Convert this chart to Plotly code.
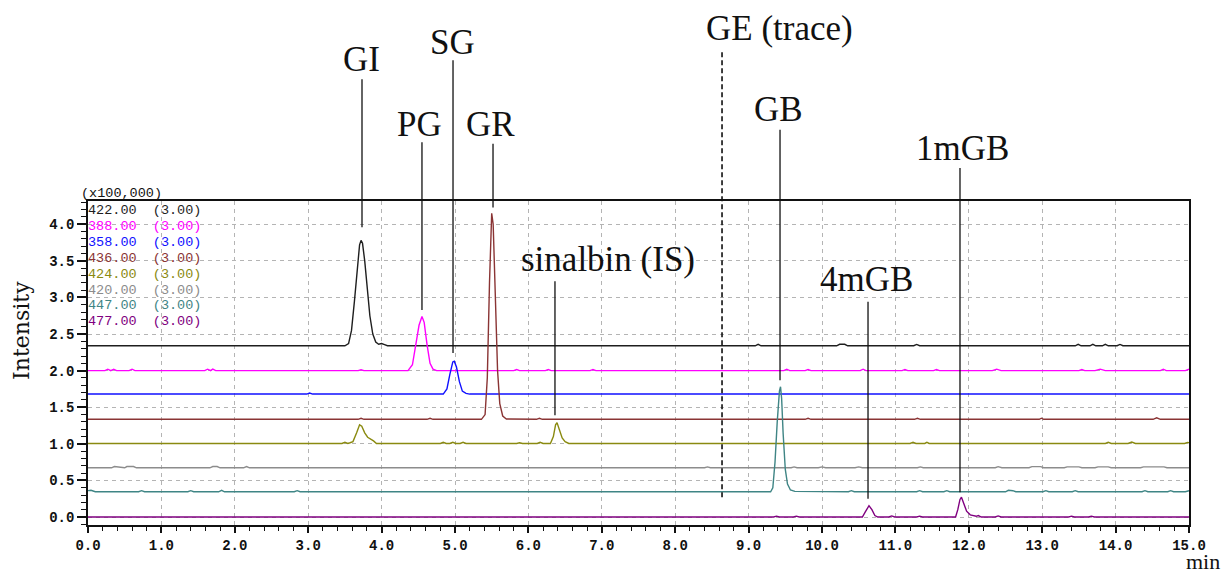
import plotly.graph_objects as go

# ---------------- data (time in min, intensity in x100,000) ----------------
channels = ["422.00", "388.00", "358.00", "436.00", "424.00", "420.00", "447.00", "477.00"]
windows = ["3.00", "3.00", "3.00", "3.00", "3.00", "3.00", "3.00", "3.00"]
colors = ["#1e1e1e", "#ff00ff", "#1010ff", "#8a3434", "#8a8a10", "#8c8c8c", "#3f8585", "#800080"]

pts_422 = [(0.0, 2.34), (3.50, 2.34), (3.55, 2.37), (3.59, 2.55), (3.63, 2.95), (3.67, 3.45),
           (3.70, 3.72), (3.72, 3.78), (3.74, 3.74), (3.77, 3.50), (3.80, 3.15), (3.84, 2.75),
           (3.88, 2.50), (3.92, 2.39), (3.96, 2.36), (4.00, 2.37), (4.04, 2.355), (4.08, 2.34),
           (9.09, 2.34), (9.13, 2.36), (9.17, 2.34), (10.20, 2.34), (10.24, 2.36), (10.31, 2.36),
           (10.35, 2.34), (11.25, 2.34), (11.29, 2.358), (11.33, 2.34), (13.45, 2.34), (13.49, 2.36),
           (13.53, 2.34), (13.65, 2.34), (13.69, 2.36), (13.73, 2.34), (13.82, 2.34), (13.86, 2.36),
           (13.90, 2.34), (14.02, 2.34), (14.06, 2.358), (14.10, 2.34), (15.0, 2.34)]

pts_388 = [(0.0, 2.0), (0.23, 2.0), (0.27, 2.02), (0.31, 2.0), (0.35, 2.02), (0.39, 2.0),
           (0.56, 2.0), (0.60, 2.02), (0.64, 2.0), (1.59, 2.0), (1.63, 2.02), (1.67, 2.0),
           (1.70, 2.02), (1.74, 2.0), (3.68, 2.0), (3.72, 2.012), (3.76, 2.0), (4.36, 2.0),
           (4.42, 2.08), (4.47, 2.35), (4.51, 2.62), (4.55, 2.74), (4.58, 2.66), (4.62, 2.35),
           (4.66, 2.10), (4.70, 2.02), (4.75, 2.0), (5.80, 2.0), (5.84, 2.015), (5.88, 2.0),
           (6.23, 2.0), (6.27, 2.015), (6.31, 2.0), (6.84, 2.0), (6.88, 2.015), (6.92, 2.0),
           (9.48, 2.0), (9.52, 2.02), (9.56, 2.0), (9.77, 2.0), (9.81, 2.015), (9.85, 2.0),
           (10.52, 2.0), (10.56, 2.02), (10.60, 2.0), (11.09, 2.0), (11.13, 2.015), (11.17, 2.0),
           (11.52, 2.0), (11.56, 2.015), (11.60, 2.0), (12.32, 2.0), (12.38, 2.02), (12.44, 2.0),
           (13.50, 2.0), (13.54, 2.015), (13.58, 2.0), (13.72, 2.0), (13.79, 2.02), (13.86, 2.0),
           (14.61, 2.0), (14.65, 2.02), (14.69, 2.0), (14.95, 2.0), (15.0, 2.02)]

pts_358 = [(0.0, 1.68), (2.98, 1.68), (3.02, 1.695), (3.06, 1.68), (4.84, 1.68), (4.89, 1.75),
           (4.93, 1.95), (4.97, 2.12), (4.99, 2.13), (5.02, 2.05), (5.06, 1.85), (5.10, 1.72),
           (5.15, 1.69), (5.20, 1.68), (15.0, 1.68)]

pts_436 = [(0.0, 1.335), (3.68, 1.335), (3.72, 1.35), (3.76, 1.335), (4.62, 1.335), (4.66, 1.35),
           (4.70, 1.335), (5.36, 1.335), (5.41, 1.40), (5.44, 1.90), (5.47, 3.20), (5.50, 4.15),
           (5.52, 4.00), (5.55, 3.00), (5.58, 2.00), (5.61, 1.55), (5.65, 1.38), (5.70, 1.34),
           (6.11, 1.335), (6.15, 1.35), (6.19, 1.335), (9.77, 1.335), (9.81, 1.35), (9.85, 1.335),
           (11.26, 1.335), (11.30, 1.35), (11.34, 1.335), (12.96, 1.335), (12.99, 1.35), (13.02, 1.335),
           (14.51, 1.335), (14.56, 1.355), (14.61, 1.335), (15.0, 1.335)]

pts_424 = [(0.0, 1.005), (3.46, 1.005), (3.50, 1.02), (3.54, 1.005), (3.57, 1.015), (3.61, 1.03),
           (3.66, 1.15), (3.70, 1.26), (3.73, 1.24), (3.77, 1.15), (3.81, 1.09), (3.85, 1.07),
           (3.89, 1.04), (3.93, 1.005), (4.80, 1.005), (4.84, 1.02), (4.88, 1.005), (4.93, 1.005),
           (4.97, 1.02), (5.01, 1.005), (5.07, 1.005), (5.11, 1.02), (5.15, 1.005), (5.84, 1.005),
           (5.88, 1.015), (5.92, 1.005), (6.12, 1.005), (6.16, 1.02), (6.20, 1.005), (6.30, 1.005),
           (6.34, 1.10), (6.37, 1.26), (6.39, 1.29), (6.42, 1.20), (6.46, 1.08), (6.50, 1.03),
           (6.55, 1.005), (11.20, 1.005), (11.24, 1.02), (11.28, 1.005), (11.40, 1.005), (11.43, 1.02),
           (11.46, 1.005), (13.86, 1.005), (13.90, 1.02), (13.94, 1.005), (14.17, 1.005), (14.22, 1.025),
           (14.27, 1.005), (14.94, 1.005), (14.98, 1.02), (15.0, 1.015)]

pts_420 = [(0.0, 0.673), (0.32, 0.673), (0.36, 0.69), (0.44, 0.685), (0.50, 0.673), (0.53, 0.69),
           (0.58, 0.685), (0.62, 0.69), (0.66, 0.673), (1.66, 0.673), (1.70, 0.69), (1.76, 0.69),
           (1.80, 0.673), (2.12, 0.673), (2.16, 0.69), (2.20, 0.673), (8.40, 0.673), (8.44, 0.685),
           (8.48, 0.673), (9.58, 0.673), (9.62, 0.685), (9.66, 0.673), (9.95, 0.673), (10.00, 0.685),
           (10.05, 0.673), (10.45, 0.673), (10.50, 0.685), (10.55, 0.673), (11.30, 0.673), (11.34, 0.685),
           (11.38, 0.673), (12.36, 0.673), (12.40, 0.688), (12.45, 0.673), (12.82, 0.673), (12.86, 0.688),
           (12.98, 0.688), (13.02, 0.673), (13.30, 0.673), (13.34, 0.685), (13.50, 0.685), (13.54, 0.673),
           (13.72, 0.673), (13.76, 0.685), (13.90, 0.685), (13.94, 0.673), (14.34, 0.673), (14.38, 0.685),
           (14.66, 0.685), (14.70, 0.673), (15.0, 0.673)]

pts_447 = [(0.0, 0.36), (0.04, 0.365), (0.10, 0.345), (0.69, 0.345), (0.73, 0.36), (0.77, 0.345),
           (1.36, 0.345), (1.40, 0.36), (1.44, 0.345), (1.78, 0.345), (1.82, 0.365), (1.86, 0.345),
           (2.81, 0.345), (2.85, 0.36), (2.89, 0.345), (9.30, 0.345), (9.33, 0.40), (9.36, 0.75),
           (9.39, 1.30), (9.42, 1.72), (9.435, 1.78), (9.45, 1.62), (9.47, 1.15), (9.50, 0.65),
           (9.53, 0.45), (9.57, 0.37), (9.63, 0.35), (10.36, 0.345), (10.40, 0.36), (10.44, 0.345),
           (11.29, 0.345), (11.33, 0.36), (11.37, 0.345), (11.66, 0.345), (11.70, 0.36), (11.74, 0.345),
           (12.50, 0.345), (12.54, 0.365), (12.60, 0.36), (12.64, 0.345), (13.01, 0.345), (13.05, 0.36),
           (13.09, 0.345), (13.41, 0.345), (13.45, 0.36), (13.49, 0.345), (14.36, 0.345), (14.40, 0.36),
           (14.44, 0.345), (14.71, 0.345), (14.75, 0.36), (14.79, 0.345), (14.95, 0.345), (15.0, 0.36)]

pts_477 = [(0.0, 0.0), (9.34, 0.0), (9.38, 0.012), (9.42, 0.0), (9.61, 0.0), (9.65, 0.012),
           (9.69, 0.0), (10.55, 0.0), (10.59, 0.07), (10.64, 0.155), (10.68, 0.10), (10.72, 0.02),
           (10.76, 0.0), (10.91, 0.0), (10.95, 0.015), (10.99, 0.0), (11.29, 0.0), (11.33, 0.012),
           (11.37, 0.0), (11.82, 0.0), (11.85, 0.10), (11.88, 0.24), (11.90, 0.27), (11.93, 0.18),
           (11.97, 0.08), (12.02, 0.03), (12.06, 0.015), (12.10, 0.01), (12.13, 0.02), (12.17, 0.0),
           (12.36, 0.0), (12.40, 0.015), (12.44, 0.0), (13.36, 0.0), (13.40, 0.012), (13.44, 0.0),
           (13.63, 0.0), (13.67, 0.012), (13.71, 0.0), (15.0, 0.0)]

series = [pts_422, pts_388, pts_358, pts_436, pts_424, pts_420, pts_447, pts_477]

# peak labels
label_text = ["GI", "PG", "SG", "GR", "sinalbin (IS)", "GE (trace)", "GB", "4mGB", "1mGB"]
label_line_t = [3.733, 4.55, 4.973, 5.518, 6.362, 8.638, 9.428, 10.627, 11.88]
label_text_t = [3.72, 4.52, 4.966, 5.49, 7.08, 9.42, 9.414, 10.60, 11.92]
label_text_v = [6.257, 5.369, 6.489, 5.369, 3.525, 6.680, 5.574, 3.251, 5.041]
label_line_top = [5.98, 5.12, 6.24, 5.10, 3.22, 6.38, 5.29, 2.94, 4.77]
label_line_bottom = [3.96, 2.83, 2.24, 4.23, 1.39, 0.27, 1.87, 0.25, 0.34]
label_dashed = [False, False, False, False, False, True, False, False, False]

x_range = [0.0, 15.0]
y_range = [-0.109, 4.318]

# ---------------- figure ----------------
fig = go.Figure()
for pts, col, ch in zip(series, colors, channels):
    fig.add_trace(go.Scatter(
        x=[p[0] for p in pts], y=[p[1] for p in pts], mode="lines",
        line=dict(color=col, width=1.4), name=ch, showlegend=False, hoverinfo="skip"))


def to_paper(v):
    return (v - y_range[0]) / (y_range[1] - y_range[0])


shapes = []
annotations = []
serif = "Liberation Serif"
for txt, lt, tt, tv, top, bot, dsh in zip(label_text, label_line_t, label_text_t, label_text_v,
                                         label_line_top, label_line_bottom, label_dashed):
    shapes.append(dict(type="line", xref="x", yref="paper", x0=lt, x1=lt,
                       y0=to_paper(bot), y1=to_paper(top),
                       line=dict(color="#111111", width=1.6 if dsh else 1.3,
                                 dash="5px,3px" if dsh else "solid")))
    annotations.append(dict(text=txt, x=tt, y=to_paper(tv), xref="x", yref="paper",
                            xanchor="center", yanchor="middle", showarrow=False,
                            font=dict(family=serif, size=35, color="#111111")))

# channel list in top-left corner
mono = "Liberation Mono"
annotations.append(dict(text="(x100,000)", x=-0.0075, y=to_paper(4.426), xref="paper", yref="paper",
                        xanchor="left", yanchor="middle", showarrow=False, borderpad=0,
                        font=dict(family=mono, size=13.5, color="#111111")))
for i, (ch, w, col) in enumerate(zip(channels, windows, colors)):
    annotations.append(dict(text=f"{ch}  ({w})", x=0.0, y=to_paper(4.184 - 0.2165 * i),
                            xref="paper", yref="paper",
                            xanchor="left", yanchor="middle", showarrow=False, borderpad=0,
                            xshift=-1, font=dict(family=mono, size=13.5, color=col)))

annotations.append(dict(text="Intensity", x=-0.06, y=0.602, xref="paper", yref="paper",
                        textangle=-90, showarrow=False, xanchor="center", yanchor="middle",
                        font=dict(family="DejaVu Serif", size=22, color="#111111")))
annotations.append(dict(text="min", x=1.0, y=0.0, xref="paper", yref="paper",
                        xanchor="right", yanchor="bottom", xshift=32, yshift=-50,
                        showarrow=False, borderpad=0,
                        font=dict(family=serif, size=22, color="#111111")))

tickfont = dict(family=mono, size=14, color="#111111", weight="bold")
# the page body keeps an 8px default margin, so the figure starts at (8, 8)
# and is kept short enough that the page never scrolls
fig.update_layout(
    width=1222, height=567,
    margin=dict(l=80, r=41, t=193, b=50),
    paper_bgcolor="white", plot_bgcolor="white",
    shapes=shapes, annotations=annotations,
    xaxis=dict(range=x_range, tick0=0, dtick=1, tickformat=".1f", ticks="outside", ticklen=6,
               tickwidth=1.5, tickcolor="#111111", showline=True, linecolor="#111111", linewidth=1.6,
               mirror=True, showgrid=True, gridcolor="#b4b4b4", gridwidth=1, griddash="4px,4px",
               zeroline=False, tickfont=tickfont,
               minor=dict(dtick=0.2, tick0=0, ticks="outside", ticklen=4, tickwidth=1.2,
                          tickcolor="#111111", showgrid=False)),
    yaxis=dict(range=y_range, tick0=0, dtick=0.5, tickformat=".1f", ticks="outside", ticklen=9,
               tickwidth=1.5, tickcolor="#111111", showline=True, linecolor="#111111", linewidth=1.6,
               mirror=True, showgrid=True, gridcolor="#b4b4b4", gridwidth=1, griddash="4px,4px",
               zeroline=False, tickfont=tickfont,
               minor=dict(dtick=0.1, tick0=0, ticks="outside", ticklen=5, tickwidth=1.2,
                          tickcolor="#111111", showgrid=False)),
)

fig.write_html("out.html")
